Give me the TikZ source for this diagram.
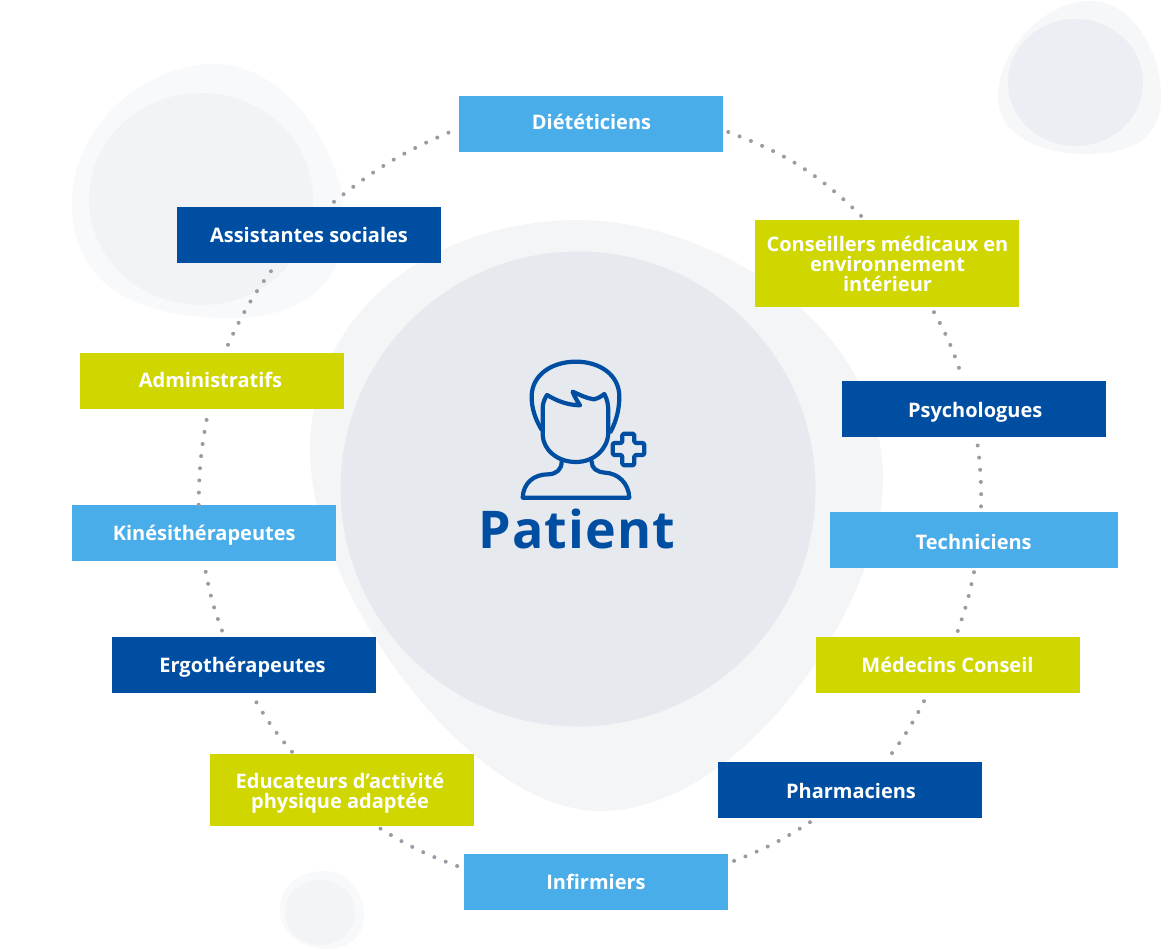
\documentclass[tikz,border=0pt]{standalone}
\usepackage{fontspec}
\setmainfont{Open Sans}
\definecolor{lblue}{HTML}{49ADEA}
\definecolor{dblue}{HTML}{004EA2}
\definecolor{lime}{HTML}{CFD600}
\definecolor{blobout}{HTML}{F4F5F7}
\definecolor{blobin}{HTML}{E6E9EE}
\definecolor{blobsoftA}{HTML}{F8F9FB}
\definecolor{blobmidA}{HTML}{F2F3F6}
\definecolor{blobsoftB}{HTML}{F6F7F9}
\definecolor{blobmidB}{HTML}{ECEEF3}
\definecolor{blobmidC}{HTML}{F3F4F7}
\definecolor{dotc}{HTML}{9A9CA3}
% dx = horizontal offset of the text, dy = height of the baseline above the node centre
\newcommand\tmv[3]{\raisebox{#2pt}[0pt][0pt]{\makebox[0pt]{\hspace*{\dimexpr #1pt*2\relax}#3}}}
\newcommand\cstack[1]{\vtop{\baselineskip=20pt\lineskiplimit=-100pt\halign{\hfil##\hfil\cr#1\crcr}}}
\tikzset{
  x=1pt,y=-1pt,
  box/.style={minimum width=264pt,minimum height=56pt,inner sep=0pt,text=white,
    font=\fontsize{20}{20}\selectfont\bfseries},
  lb/.style={box,fill=lblue},
  db/.style={box,fill=dblue},
  lm/.style={box,fill=lime},
  dotline/.style={draw=dotc,line width=4pt,line cap=round,dash pattern=on 0pt off 12.2pt},
  icon/.style={draw=dblue,line width=4.2pt,line join=round,line cap=round},
}
\begin{document}
\begin{tikzpicture}
\useasboundingbox (0,0) rectangle (1170,950);
\fill[white] (0,0) rectangle (1170,950);
% blobs
\fill[blobout] (580,220) .. controls (715,222) and (883,325) .. (883,480) .. controls (883,600) and (745,811) .. (600,811) .. controls (470,811) and (310,590) .. (310,450) .. controls (310,310) and (435,220) .. (580,220) -- cycle;
\fill[blobin] (578,489) circle[radius=237.5];
\fill[blobsoftA] (215,64) .. controls (285,64) and (345,150) .. (345,225) .. controls (345,285) and (300,318) .. (230,318) .. controls (130,318) and (72,280) .. (72,205) .. controls (72,120) and (150,64) .. (215,64) -- cycle;
\fill[blobmidA] (201,199) ellipse[x radius=112,y radius=106];
\fill[blobsoftB] (1090,1) .. controls (1135,1) and (1161,55) .. (1161,97) .. controls (1161,140) and (1130,154) .. (1085,154) .. controls (1040,154) and (998,135) .. (998,97) .. controls (998,50) and (1045,1) .. (1090,1) -- cycle;
\fill[blobmidB] (1075.5,82.5) ellipse[x radius=67.5,y radius=63.5];
\fill[blobsoftA] (325,871) .. controls (345,871) and (364,890) .. (364,915) .. controls (364,935) and (350,949) .. (327,949) .. controls (305,949) and (280,935) .. (280,910) .. controls (280,885) and (300,871) .. (325,871) -- cycle;
\fill[blobmidC] (320,912.5) ellipse[x radius=35,y radius=32.5];
% icon
\begin{scope}[shift={(470,340)},x=0.3333pt,y=-0.3333pt]
\draw[icon] (214,268) .. controls (195,235) and (185,205) .. (185,170) .. controls (185,105) and (245,65) .. (318,65) .. controls (390,65) and (448,105) .. (448,170) .. controls (448,210) and (438,245) .. (422,275);
\draw[icon] (231,165) .. controls (260,182) and (290,195) .. (330,196) .. controls (320,180) and (312,168) .. (308,155) .. controls (330,165) and (350,175) .. (372,178) .. controls (385,175) and (395,168) .. (403,162) .. controls (412,178) and (415,195) .. (415,215) -- (415,280) .. controls (412,330) and (370,366) .. (318,366) .. controls (262,366) and (220,330) .. (218,285) -- (218,205) .. controls (218,190) and (224,175) .. (231,165) -- cycle;
\draw[icon] (275,365) .. controls (275,388) and (260,402) .. (235,403) .. controls (190,403) and (160,430) .. (158,473) -- (478,473) .. controls (476,430) and (445,400) .. (405,398) .. controls (380,396) and (365,385) .. (365,365);
\draw[icon,rounded corners=1.5pt] (457,281) -- (493,281) -- (493,309) -- (523,309) -- (523,345) -- (493,345) -- (493,376) -- (457,376) -- (457,345) -- (428,345) -- (428,309) -- (457,309) -- cycle;
\end{scope}
\node[text=dblue,font=\fontsize{52}{52}\selectfont\bfseries\addfontfeature{LetterSpace=2.2},inner sep=0pt] (patient) at (577,548) {\tmv{0}{0}{Patient}};
% nodes
\node[lb] (diet) at (591,124) {\tmv{0.5}{-5.5}{Diététiciens}};
\node[db] (assist) at (309,235) {\tmv{0}{-7}{Assistantes sociales}};
\node[lm,minimum height=87pt] (conseil) at (887,263.5) {\tmv{0.5}{12.5}{\cstack{Conseillers médicaux en\cr environnement\cr intérieur}}};
\node[db] (psych) at (974,409) {\tmv{1.2}{-8.5}{Psychologues}};
\node[lb,minimum width=288pt] (tech) at (974,540) {\tmv{-0.3}{-9}{Techniciens}};
\node[lm] (admin) at (212,381) {\tmv{-1.5}{-6.5}{Administratifs}};
\node[lb] (kine) at (204,533) {\tmv{0.2}{-7}{Kinésithérapeutes}};
\node[lm] (med) at (948,665) {\tmv{-0.5}{-7.7}{Médecins Conseil}};
\node[db] (ergo) at (244,665) {\tmv{-1.5}{-7.5}{Ergothérapeutes}};
\node[db] (pharm) at (850,790) {\tmv{1}{-8}{Pharmaciens}};
\node[lm,minimum height=72pt] (edu) at (342,790) {\tmv{-2}{1.7}{\cstack{Educateurs d’activité\cr physique adaptée}}};
\node[lb] (inf) at (596,882) {\tmv{0}{-7.5}{Infirmiers}};
% connectors
\draw[dotline] ([xshift=5pt,yshift=-8pt]diet.east) to[bend left=12] ([xshift=-25pt,yshift=3pt]conseil.north);
\draw[dotline] ([xshift=47pt,yshift=-5pt]conseil.south) to[bend left=5] ([xshift=-14pt,yshift=10pt]psych.north);
\draw[dotline] ([xshift=3.7pt,yshift=-8.3pt]psych.south) to[bend left=4] ([xshift=7pt,yshift=3.3pt]tech.north);
\draw[dotline] ([xshift=0pt,yshift=-4pt]tech.south) to[bend left=4] ([xshift=9pt,yshift=3.7pt]med.north);
\draw[dotline] ([xshift=-24pt,yshift=-8pt]med.south) to[bend left=5] ([xshift=37pt,yshift=2pt]pharm.north);
\draw[dotline] ([xshift=-40pt,yshift=-4pt]pharm.south) to[bend left=6] ([xshift=3pt,yshift=20pt]inf.east);
\draw[dotline] ([xshift=-6.7pt,yshift=16pt]inf.west) to[bend left=6] ([xshift=35.7pt,yshift=-0.7pt]edu.south);
\draw[dotline] ([xshift=-50pt,yshift=2pt]edu.north) to[bend left=5] ([xshift=10pt,yshift=-5pt]ergo.south);
\draw[dotline] ([xshift=-22pt,yshift=6.3pt]ergo.north) to[bend left=5] ([xshift=1.3pt,yshift=-8.3pt]kine.south);
\draw[dotline] ([xshift=-5.3pt,yshift=0pt]kine.north) to[bend left=5] ([xshift=-5pt,yshift=-8.3pt]admin.south);
\draw[dotline] ([xshift=16pt,yshift=8pt]admin.north) to[bend left=6] ([xshift=-35.3pt,yshift=-4.3pt]assist.south);
\draw[dotline] ([xshift=25pt,yshift=5pt]assist.north) to[bend left=8] ([xshift=-4pt,yshift=-6pt]diet.west);
\end{tikzpicture}
\end{document}
